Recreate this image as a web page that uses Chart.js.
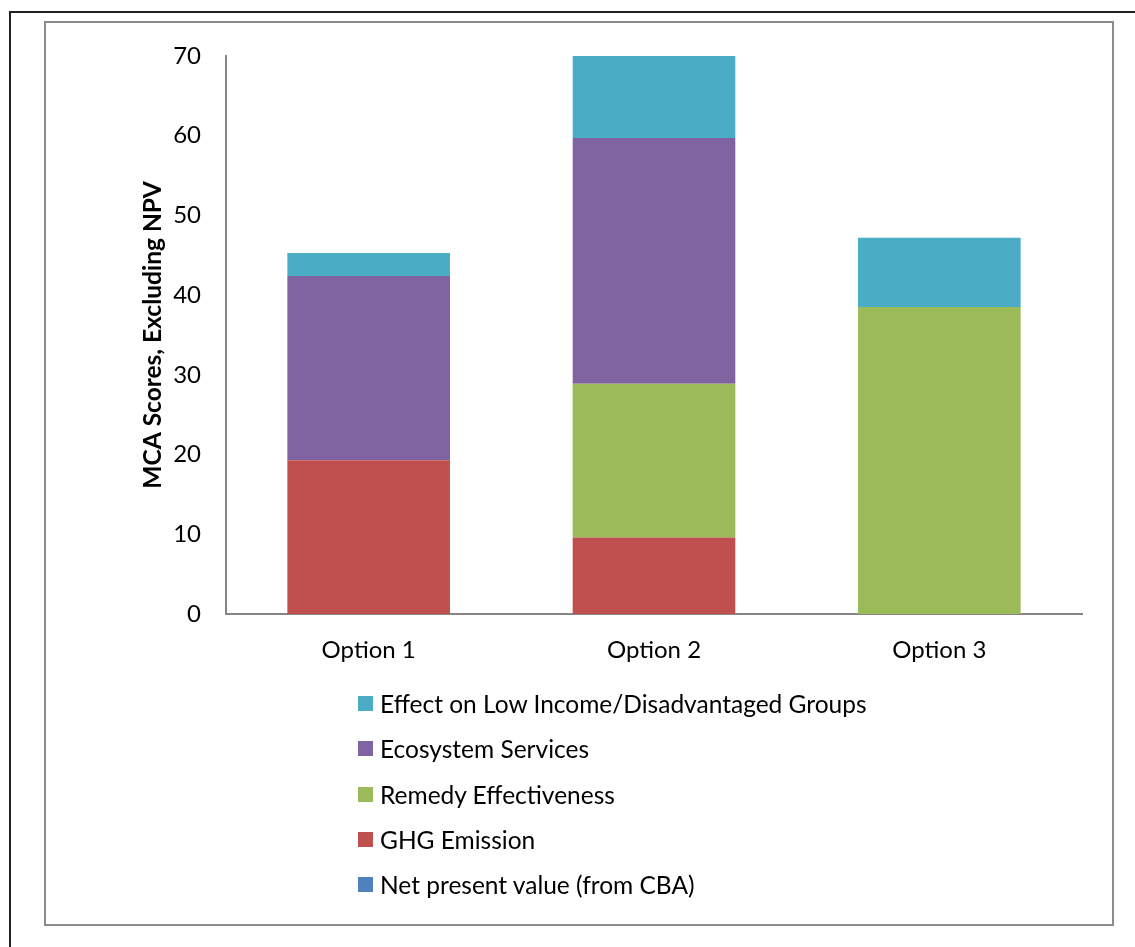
<!DOCTYPE html>
<html>
<head>
<meta charset="utf-8">
<script src="https://cdn.jsdelivr.net/npm/chart.js@4"></script>
<style>
  body { margin: 0; background: #fff; }
  #page { position: relative; width: 1135px; height: 947px; overflow: hidden; }
  #outer { position: absolute; left: 9px; top: 11px; width: 1200px; height: 1000px; border-left: 2px solid #222; border-top: 2px solid #222; }
  #inner { position: absolute; left: 44px; top: 21px; width: 1066px; height: 901px; border: 2px solid #8c8c8c; }
  #wrap { position: absolute; left: 0; top: 0; width: 1135px; height: 700px; }
  #legend { position: absolute; left: 358px; top: 681px; font-family: Lato, sans-serif; font-size: 24.5px; color: #000; }
  #legend div { height: 45.3px; display: flex; align-items: center; }
  #legend span.box { display: inline-block; width: 15px; height: 15px; margin-right: 7px; }
</style>
</head>
<body>
<div id="page">
  <div id="outer"></div>
  <div id="inner"></div>
  <div id="wrap"><canvas id="myChart"></canvas></div>
  <div id="legend"></div>
</div>
<script>
const options = ['Option 1', 'Option 2', 'Option 3'];
const npv = [0, 0, 0];
const ghg = [19.3, 9.6, 0];
const remedy = [0, 19.3, 38.5];
const ecosystem = [23.1, 30.8, 0];
const lowIncome = [2.9, 10.4, 8.7];
const yTicks = [0, 10, 20, 30, 40, 50, 60, 70];

const data = {
  labels: options,
  datasets: [
    { label: 'Net present value (from CBA)', data: npv, backgroundColor: '#4F81BD' },
    { label: 'GHG Emission', data: ghg, backgroundColor: '#C0504D' },
    { label: 'Remedy Effectiveness', data: remedy, backgroundColor: '#9BBB59' },
    { label: 'Ecosystem Services', data: ecosystem, backgroundColor: '#8064A2' },
    { label: 'Effect on Low Income/Disadvantaged Groups', data: lowIncome, backgroundColor: '#4BACC6' }
  ]
};
data.datasets.forEach(ds => {
  ds.barPercentage = 0.57;
  ds.categoryPercentage = 1;
  ds.borderWidth = 0;
});

const font = { family: 'Lato, sans-serif', size: 24 };

const config = {
  type: 'bar',
  data: data,
  options: {
    responsive: true,
    maintainAspectRatio: false,
    animation: false,
    layout: { padding: { left: 138, top: 56, right: 53, bottom: 0 } },
    plugins: {
      legend: { display: false },
      tooltip: { enabled: false }
    },
    scales: {
      x: {
        stacked: true,
        grid: { display: false },
        border: { color: '#868686', width: 2 },
        ticks: { color: '#000', font: font, padding: 14 },
        afterFit: (scale) => { scale.height = 86; }
      },
      y: {
        stacked: true,
        min: 0,
        max: 70,
        grid: { display: false, drawTicks: false },
        border: { color: '#868686', width: 2 },
        afterBuildTicks: (scale) => { scale.ticks = yTicks.map(v => ({ value: v })); },
        ticks: { color: '#000', font: font, padding: 25 },
        title: {
          display: true,
          text: 'MCA Scores, Excluding NPV',
          color: '#000',
          font: { family: 'Lato, sans-serif', size: 24.5, weight: 'bold' },
          padding: 0
        },
        afterFit: (scale) => { scale.width = 88; }
      }
    }
  }
};

const ctx = document.getElementById('myChart');
new Chart(ctx, config);

// legend as a vertical list, top series first
const legend = document.getElementById('legend');
data.datasets.slice().reverse().forEach(ds => {
  const row = document.createElement('div');
  row.innerHTML = `<span class="box" style="background:${ds.backgroundColor}"></span>${ds.label}`;
  legend.appendChild(row);
});
</script>
</body>
</html>
